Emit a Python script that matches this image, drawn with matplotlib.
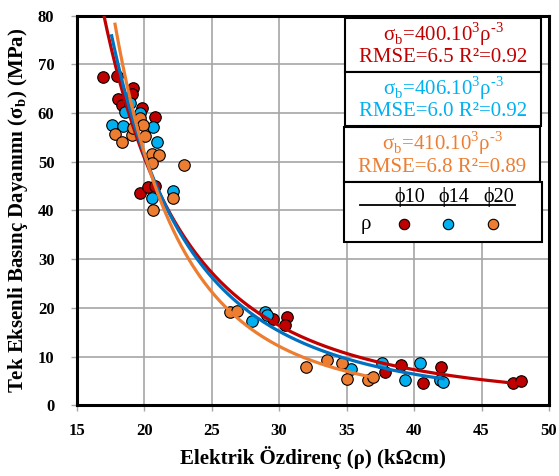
import numpy as np
import matplotlib
matplotlib.use("Agg")
from matplotlib import pyplot as plt
from matplotlib.patches import Rectangle
from matplotlib.lines import Line2D

# Scatter data (resistivity kOhm.cm, strength MPa)
phi10_rho = [16.97, 17.96, 19.19, 18.08, 18.33, 19.07, 19.81, 20.8, 19.69, 20.3, 20.8,
             29.56, 30.6, 30.45, 37.84, 39.05, 40.67, 41.96, 47.34, 47.96]
phi10_sig = [67.4, 67.6, 65.2, 62.9, 61.7, 64.0, 61.0, 59.3, 43.5, 44.9, 45.0,
             17.8, 18.1, 16.5, 6.8, 8.2, 4.5, 7.9, 4.65, 5.0]

phi14_rho = [17.59, 18.45, 18.58, 18.95, 19.69, 20.67, 20.93, 20.56, 22.1,
             27.96, 28.95, 29.1, 35.3, 37.6, 39.3, 40.43, 41.9, 42.16]
phi14_sig = [57.5, 57.3, 60.3, 62.0, 60.0, 57.2, 54.1, 42.5, 44.0,
             17.3, 19.2, 18.6, 7.5, 8.6, 5.2, 8.6, 5.2, 4.85]

phi20_rho = [19.69, 19.93, 17.84, 18.33, 19.07, 19.19, 20.06, 20.56, 21.1, 20.56, 22.96,
             22.1, 20.67, 26.35, 26.9, 32.0, 33.56, 34.63, 35.0, 36.6, 36.97]
phi20_sig = [58.9, 57.5, 55.8, 54.1, 55.5, 56.9, 55.2, 51.7, 51.4, 49.7, 49.3,
             42.6, 40.0, 19.2, 19.4, 7.8, 9.2, 8.6, 5.3, 5.1, 5.8]

eq_coefs = ["400.10", "406.10", "410.10"]
rmse_labels = ["RMSE=6.5 R²=0.92", "RMSE=6.0 R²=0.92", "RMSE=6.8 R²=0.89"]
series_names = ["\u03d510", "\u03d514", "\u03d520"]

marker_colors = ["#C00000", "#00B0F0", "#ED7D31"]
line_colors = ["#C00000", "#0070C0", "#ED7D31"]

plt.rcParams["font.family"] = ["Liberation Serif", "DejaVu Serif"]
plt.rcParams["mathtext.fontset"] = "custom"
plt.rcParams["mathtext.rm"] = "Liberation Serif"
plt.rcParams["mathtext.bf"] = "Liberation Serif:bold"

W, H = 559, 476
fig = plt.figure(figsize=(W / 100, H / 100), dpi=100)
ax = fig.add_axes([76.7 / W, 1 - 405.3 / H, (549 - 76.7) / W, (405.3 - 15.7) / H])

data = [(phi10_rho, phi10_sig), (phi14_rho, phi14_sig), (phi20_rho, phi20_sig)]
for (x, y), c in zip(data, marker_colors):
    ax.plot(x, y, "o", ms=8.3, mfc=c, mec="black", mew=0.8, zorder=3, clip_on=False)

# power-law trendlines fitted to each series (Excel style)
for (x, y), c in zip(data, line_colors):
    b, lna = np.polyfit(np.log(x), np.log(y), 1)
    xs = np.linspace(min(x), max(x), 200)
    ax.plot(xs, np.exp(lna) * xs ** b, color=c, lw=2.3, zorder=4)

ax.set_xlim(15, 50)
ax.set_ylim(0, 80)
ax.set_xticks(range(15, 51, 5))
ax.set_yticks(range(0, 81, 10))
ax.grid(True, color="#A6A6A6", lw=1.2)
ax.set_axisbelow(True)
for s in ax.spines.values():
    s.set_linewidth(2.2)
    s.set_color("black")
ax.tick_params(direction="out", length=4, color="#A6A6A6", width=1)
ax.tick_params(axis="x", pad=9)
ax.tick_params(axis="y", pad=12)
for lab in ax.get_xticklabels() + ax.get_yticklabels():
    lab.set_fontsize(12)
    lab.set_fontweight("bold")

ax.set_xlabel("Elektrik Özdirenç (ρ) (kΩcm)", fontsize=15, fontweight="bold", labelpad=5)
ax.set_ylabel("Tek Eksenli Basınç Dayanımı (σ$_\\mathbf{b}$) (MPa)", fontsize=15,
              fontweight="bold", labelpad=6)


def fx(px):
    return px / W


def fy(py):
    return 1 - py / H


# equation boxes
boxes = [(345, 18, 196, 54), (345, 72, 196, 54), (344, 127, 196, 55)]
for (bx, by, bw, bh), c, coef, rm in zip(boxes, marker_colors, eq_coefs, rmse_labels):
    fig.patches.append(Rectangle((fx(bx), fy(by + bh)), bw / W, bh / H, transform=fig.transFigure,
                                 facecolor="white", edgecolor="black", lw=1.5, zorder=5))
    eq = "σ$_\\mathrm{b}$=" + coef + "$^\\mathrm{3}$ρ$^{\\text{-3}}$"
    fig.text(fx(bx + bw / 2), fy(by + 16), eq,
             color=c, fontsize=15, ha="center", va="center", zorder=6)
    fig.text(fx(bx + bw / 2), fy(by + 40), rm, color=c, fontsize=15, ha="center", va="center",
             zorder=6)

# series legend box
fig.patches.append(Rectangle((fx(344), fy(242)), 198 / W, 60 / H, transform=fig.transFigure,
                             facecolor="white", edgecolor="black", lw=1.5, zorder=5))
fig.lines.append(Line2D([fx(360), fx(515)], [fy(205), fy(205)], transform=fig.transFigure,
                        color="black", lw=1.3, zorder=6))
fig.text(fx(366), fy(225), "ρ", fontsize=15, ha="center", va="center", zorder=6)
for px, name, c in zip([410, 454, 499], series_names, marker_colors):
    fig.text(fx(px), fy(197), name, fontsize=14.5, ha="center", va="center", zorder=6)
    fig.lines.append(Line2D([fx(px - 6)], [fy(224)], transform=fig.transFigure, marker="o",
                            ms=7.5, mfc=c, mec="black", mew=0.8, zorder=6))

fig.savefig("out.png", dpi=100)
